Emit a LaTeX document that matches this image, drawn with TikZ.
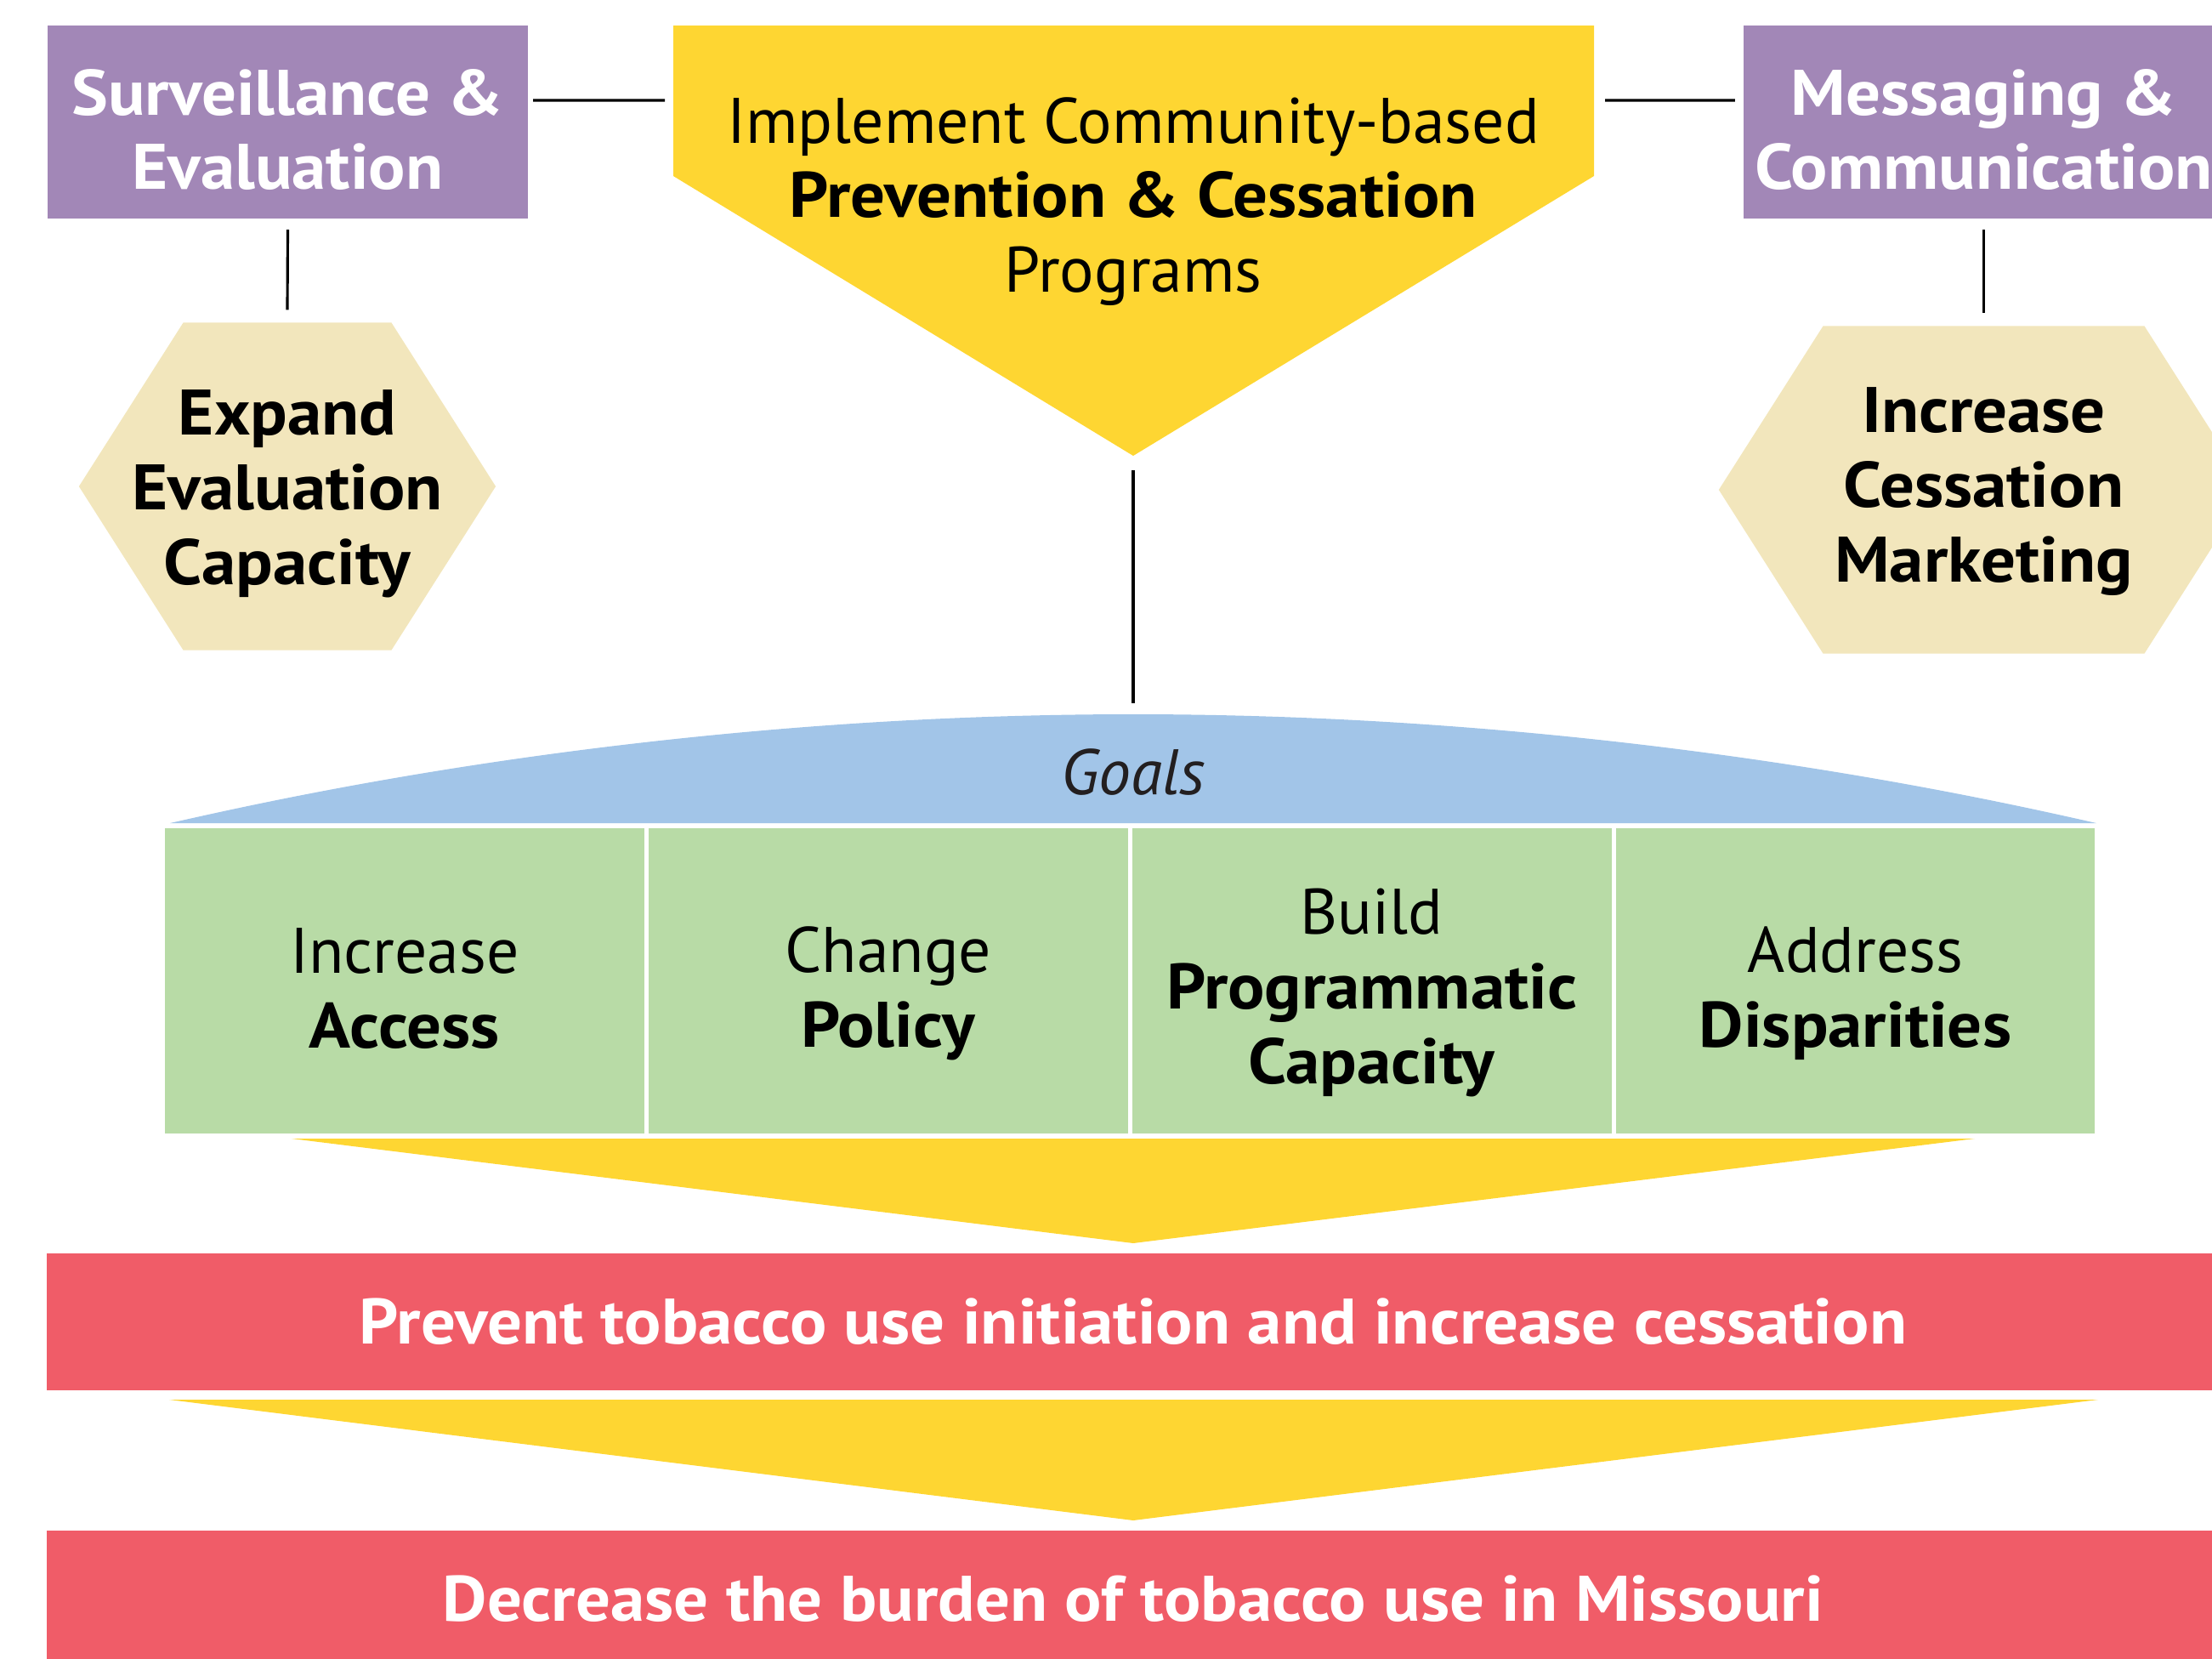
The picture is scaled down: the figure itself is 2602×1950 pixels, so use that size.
\documentclass[tikz,border=0pt]{standalone}
\usepackage{fontspec}
\setmainfont{PT Sans}[BoldFeatures={FakeStretch=1.07}]
\usepackage{tikz}
\usetikzlibrary{positioning,shapes.symbols}

\definecolor{lilac}{RGB}{162,135,183}
\definecolor{sun}{RGB}{254,214,50}
\definecolor{sand}{RGB}{242,230,188}
\definecolor{sky}{RGB}{162,197,232}
\definecolor{leaf}{RGB}{184,219,166}
\definecolor{coral}{RGB}{240,92,104}
\definecolor{ink}{RGB}{35,31,32}

\begin{document}
\begin{tikzpicture}[x=0.01cm,y=-0.01cm,align=center,node distance=0.05cm,outer sep=0pt,
	font=\fontsize{21.5}{25}\selectfont,
	boxtext/.style={align=center,text=black,font=\fontsize{21.5}{25}\selectfont,yshift=-0.09cm},
	area/.style={rectangle,fill=lilac,minimum width=5.65cm,minimum height=2.27cm,inner sep=0pt},
	hexa/.style={signal,signal to=west and east,signal pointer angle=115,fill=sand,minimum width=4.9cm,minimum height=3.85cm,inner sep=0pt},
	goal/.style={rectangle,fill=leaf,minimum width=5.635cm,minimum height=3.59cm,inner sep=0pt},
	outcome/.style={rectangle,fill=coral,text=white,font=\fontsize{21.5}{25}\selectfont\bfseries,minimum width=25.54cm,minimum height=1.61cm,inner sep=0pt},
	link/.style={line width=0.9pt}]
	\useasboundingbox (0,0) rectangle (2602,1950);
	\fill[sun] (792,30) -- (1875,30) -- (1875,207) -- (1333,536) -- (792,207) -- cycle;
	\fill[sky] (200,968) parabola bend (1333,840) (2466,968);
	\fill[sun] (343,1339) -- (2323,1339) -- (1333,1462) -- cycle;
	\fill[sun] (199,1646) -- (2468,1646) -- (1333,1788) -- cycle;
	\coordinate (progW) at (792,118);
	\coordinate (progE) at (1875,118);
	\coordinate (progtip) at (1333,536);
	\coordinate (dome) at (1333,840);

	\node (prog) at (1333,237) {Implement Community-based\\\textbf{Prevention \& Cessation}\\Programs};
	\node[area,label={[boxtext,text=white,font=\fontsize{21.5}{25}\selectfont\bfseries]center:{Surveillance \&\\Evaluation}}] (surv) at (338.5,143.5) {};
	\node[area,label={[boxtext,text=white,font=\fontsize{21.5}{25}\selectfont\bfseries]center:{Messaging \&\\Communication}}] (msg) at (2333.5,143.5) {};
	\node[hexa,label={[boxtext,font=\fontsize{21.5}{25}\selectfont\bfseries]center:{Expand\\Evaluation\\Capacity}}] (evalcap) at (338,572) {};
	\node[hexa,minimum width=6.23cm,label={[boxtext,yshift=0.07cm,font=\fontsize{21.5}{25}\selectfont\bfseries]center:{Increase\\Cessation\\Marketing}}] (cessmkt) at (2333.5,576) {};

	\node[font=\fontsize{21.5}{25}\selectfont\itshape,text=ink] (goals) at (1333,908) {Goals};
	\node[goal,label={[boxtext]center:{Increase\\\textbf{Access}}}] (access) at (476,1153.5) {};
	\node[goal,right=of access,label={[boxtext,yshift=-0.06cm]center:{Change\\\textbf{Policy}}}] (policy) {};
	\node[goal,right=of policy,label={[boxtext,yshift=-0.05cm]center:{Build\\\textbf{Programmatic}\\\textbf{Capacity}}}] (capacity) {};
	\node[goal,right=of capacity,label={[boxtext,yshift=-0.06cm]center:{Address\\\textbf{Disparities}}}] (disparities) {};

	\node[outcome] (prevent) at (1333,1554.5) {Prevent tobacco use initiation and increase cessation};
	\node[outcome] (burden) at (1333,1880.5) {Decrease the burden of tobacco use in Missouri};

	\draw[link] ([xshift=0.06cm,yshift=0.255cm]surv.east) -- ([xshift=-0.1cm]progW);
	\draw[link] ([xshift=0.13cm]progE) -- ([xshift=-0.1cm,yshift=0.255cm]msg.west);
	\draw[link] ([yshift=-0.13cm]surv.south) -- ([yshift=0.15cm]evalcap.north);
	\draw[link] ([yshift=-0.13cm]msg.south) -- ([yshift=0.15cm]cessmkt.north);
	\draw[link] ([yshift=-0.17cm]progtip) -- ([yshift=0.13cm]dome);
\end{tikzpicture}
\end{document}
